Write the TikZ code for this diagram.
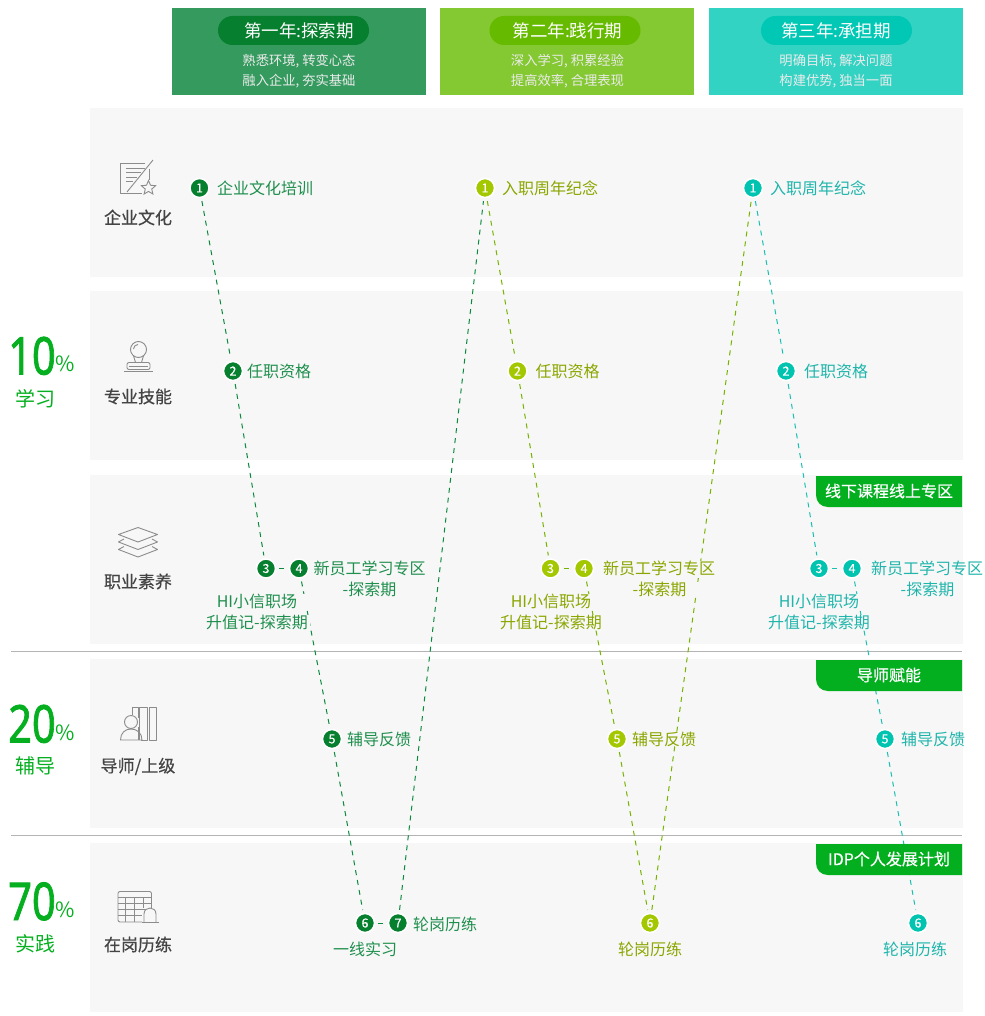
\documentclass[tikz,border=0pt]{standalone}
\usepackage{fontspec}
\setmainfont{Noto Sans CJK SC}
\newfontfamily\cjkb[FakeBold=0.4]{Noto Sans CJK SC}
\newfontfamily\latnb[FakeBold=1.6]{Noto Sans}
\usetikzlibrary{shapes.geometric}
\pgfdeclarelayer{panels}
\pgfdeclarelayer{lines}
\pgfsetlayers{panels,lines,main}
\definecolor{panelc}{HTML}{F7F7F7}
\definecolor{hrc}{HTML}{B4B4B4}
\definecolor{tagc}{HTML}{03AE1F}
\definecolor{hA}{HTML}{349A5E}
\definecolor{hB}{HTML}{84C832}
\definecolor{hC}{HTML}{33D3C4}
\definecolor{pA}{HTML}{067F2F}
\definecolor{pB}{HTML}{66BB00}
\definecolor{pC}{HTML}{00C8B4}
\definecolor{dA}{HTML}{067F2F}
\definecolor{dB}{HTML}{A4C800}
\definecolor{dC}{HTML}{00C4B0}
\definecolor{tA}{HTML}{1F8F4D}
\definecolor{tB}{HTML}{8AA600}
\definecolor{tC}{HTML}{1FB5AB}
\definecolor{lA}{HTML}{0A8A3C}
\definecolor{lB}{HTML}{76B300}
\definecolor{lC}{HTML}{19BFB0}
\definecolor{rowc}{HTML}{444444}
\definecolor{iconc}{HTML}{8C8C8C}
\definecolor{bigc}{HTML}{05AF1F}
\tikzset{
  x=1pt,y=-1pt,
  panel/.style={fill=panelc},
  hr/.style={draw=hrc,line width=1pt},
  pilltext/.style={text=white,inner sep=0pt,font=\fontsize{17.5}{18}\selectfont},
  subtext/.style={text=white!92!black,inner sep=0pt,font=\fontsize{13.3}{14}\selectfont},
  rowlab/.style={text=rowc,inner sep=0pt,font=\cjkb\fontsize{17}{17}\selectfont},
  taglab/.style={text=white,inner sep=0pt,font=\cjkb\fontsize{16}{16}\selectfont},
  pct/.style={text=bigc,inner sep=0pt,font=\fontsize{21}{21}\selectfont},
  cat/.style={text=bigc,inner sep=0pt,text height=17pt,text depth=2pt,font=\fontsize{20}{20}\selectfont},
  big/.style={text=bigc,inner sep=0pt,text height=37pt,text depth=0pt,font=\latnb\fontsize{52}{52}\selectfont},
  dot/.style={circle,fill=#1,draw=white,line width=1.5pt,minimum size=19pt,inner sep=0pt,text=white,font=\cjkb\fontsize{12.5}{12}\selectfont},
  lab/.style={text=#1,fill=panelc,inner xsep=1pt,inner ysep=0pt,font=\fontsize{16}{16}\selectfont},
  labn/.style={text=#1,inner sep=0pt,font=\fontsize{16}{16}\selectfont},
  labwide/.style={lab=#1,minimum width=106pt},
  labnew/.style={lab=#1,minimum width=116pt},
  conn/.style={draw=#1,line width=1pt,dash pattern=on 5pt off 5pt,shorten <=3pt,shorten >=3pt},
  link/.style={draw=#1,line width=1pt,shorten <=3pt,shorten >=4.5pt},
  icon/.style={draw=iconc,line width=0.9pt,line join=round},
}
\begin{document}
\begin{tikzpicture}
\path[use as bounding box] (0,0) rectangle (984,1016);
\begin{pgfonlayer}{panels}
\fill[panel] (90,108) rectangle (963,277);
\fill[panel] (90,291) rectangle (963,460);
\fill[panel] (90,475) rectangle (963,644);
\fill[panel] (90,659) rectangle (963,828);
\fill[panel] (90,843) rectangle (963,1012);
\draw[hr] (11,651) -- (962,651);
\draw[hr] (11,835) -- (962,835);
\end{pgfonlayer}

% headers
\fill[hA] (172,8) rectangle (426,95);
\fill[hB] (440,8) rectangle (694,95);
\fill[hC] (709,8) rectangle (963,95);
\fill[pA,rounded corners=14.5pt] (218,16) rectangle (369,45);
\fill[pB,rounded corners=14.5pt] (489.5,16) rectangle (640.5,45);
\fill[pC,rounded corners=14.5pt] (761,16) rectangle (912,45);
\node[pilltext] (h1) at (299,30.5) {第一年:探索期};
\node[pilltext] (h2) at (567.5,30.5) {第二年:践行期};
\node[pilltext] (h3) at (836,30.5) {第三年:承担期};
\node[subtext] (s1a) at (299,61) {熟悉环境, 转变心态};
\node[subtext] (s1b) at (299,81.5) {融入企业, 夯实基础};
\node[subtext] (s2a) at (567.5,61) {深入学习, 积累经验};
\node[subtext] (s2b) at (567.5,81.5) {提高效率, 合理表现};
\node[subtext] (s3a) at (836,61) {明确目标, 解决问题};
\node[subtext] (s3b) at (836,81.5) {构建优势, 独当一面};

% left column
\node[big] (n10) at (32,356) {\scalebox{.8}[1]{10}};
\node[pct] (p10) at (65.5,364) {\%};
\node[cat] (c10) at (35,398.5) {学习};
\node[big] (n20) at (32,724) {\scalebox{.8}[1]{20}};
\node[pct] (p20) at (65.5,733) {\%};
\node[cat] (c20) at (35,766) {辅导};
\node[big] (n70) at (32,901.5) {\scalebox{.8}[1]{70}};
\node[pct] (p70) at (65.5,910) {\%};
\node[cat] (c70) at (35,944) {实践};

% row labels
\node[rowlab] (r1) at (138,217.5) {企业文化};
\node[rowlab] (r2) at (138,396.5) {专业技能};
\node[rowlab] (r3) at (138,581.5) {职业素养};
\node[rowlab] (r4) at (138,766.5) {导师/上级};
\node[rowlab] (r5) at (138,944.5) {在岗历练};

% icon 1
\draw[icon] (145,163.5) -- (120.5,163.5) -- (120.5,193.5) -- (142,193.5);
\draw[icon] (149,169) -- (149,180);
\draw[icon] (153,160) -- (127,192);
\draw[icon] (126,168) -- (145,168) (126,172.5) -- (141,172.5) (126,177) -- (137,177) (126,181.5) -- (133,181.5);
\node[star,star points=5,star point ratio=2.2,draw=iconc,line width=0.9pt,fill=panelc,minimum size=15pt,inner sep=0pt] (st) at (148.5,188) {};
% icon 2
\draw[icon] (138.5,349.5) circle[radius=8];
\draw[icon] (133.5,355.7) -- (135.5,362.5) (143.5,355.7) -- (141.5,362.5);
\draw[icon] (133.5,349) .. controls (133.5,346.5) and (135.5,344.5) .. (138,344.5);
\draw[icon,rounded corners=2pt] (127,369.5) rectangle (150,362.5);
\draw[icon] (129,366) -- (148,366);
\draw[icon] (124,371.5) -- (153,371.5);
% icon 3
\draw[icon] (118.5,534.5) -- (138,527.5) -- (157.5,534.5) -- (138,542) -- cycle;
\draw[icon] (124,539) -- (118.5,542) -- (138,549.5) -- (157.5,542) -- (152,539);
\draw[icon] (124,546.5) -- (118.5,549.5) -- (138,557) -- (157.5,549.5) -- (152,546.5);
% icon 4
\draw[icon] (132,715) -- (132,707) -- (138,707) -- (138,718) (138,727) -- (138,740);
\draw[icon] (141,740) -- (147,740) -- (147,707) -- (139.5,707) -- (139.5,740);
\draw[icon] (149,740) rectangle (156,707);
\draw[icon] (131,722) circle[radius=6.5];
\draw[icon] (120.5,740) .. controls (120.5,733) and (125,729) .. (131,729) .. controls (137,729) and (142,733) .. (142,740) -- cycle;
% icon 5
\draw[icon,rounded corners=2pt] (142,922) -- (118,922) -- (118,891.5) -- (151.5,891.5) -- (151.5,908);
\draw[icon] (118,897) -- (151.5,897) (118,903) -- (151.5,903) (118,909) -- (146,909) (118,915.5) -- (142,915.5);
\draw[icon] (125,897) -- (125,922) (134,897) -- (134,922) (143,897) -- (143,908);
\draw[icon,fill=panelc] (144,922) -- (144,914) .. controls (144,906) and (156,906) .. (156,914) -- (156,922);
\draw[icon] (142,922) -- (159,922);

% tags
\fill[tagc] (816,476) -- (962,476) -- (962,507) -- (828,507) .. controls (821,507) and (816,502) .. (816,495) -- cycle;
\fill[tagc] (816,660) -- (962,660) -- (962,691) -- (828,691) .. controls (821,691) and (816,686) .. (816,679) -- cycle;
\fill[tagc] (816,844) -- (962,844) -- (962,875) -- (828,875) .. controls (821,875) and (816,870) .. (816,863) -- cycle;
\node[taglab] (t1) at (889,491) {线下课程线上专区};
\node[taglab] (t2) at (889,675) {导师赋能};
\node[taglab] (t3) at (889,859) {IDP个人发展计划};

% dots year 1
\node[dot=dA] (a1) at (199.5,188) {1};
\node[dot=dA] (a2) at (233,371) {2};
\node[dot=dA] (a3) at (266,568.5) {3};
\node[dot=dA] (a4) at (299,568.5) {4};
\node[dot=dA] (a5) at (332,739) {5};
\node[dot=dA] (a6) at (365,923) {6};
\node[dot=dA] (a7) at (398,923) {7};
% dots year 2
\node[dot=dB] (b1) at (485,188) {1};
\node[dot=dB] (b2) at (517.5,371) {2};
\node[dot=dB] (b3) at (550.5,568.5) {3};
\node[dot=dB] (b4) at (584,568.5) {4};
\node[dot=dB] (b5) at (617,739) {5};
\node[dot=dB] (b6) at (650,923) {6};
% dots year 3
\node[dot=dC] (c1) at (753,188) {1};
\node[dot=dC] (c2) at (786,371) {2};
\node[dot=dC] (c3) at (819,568.5) {3};
\node[dot=dC] (c4) at (852,568.5) {4};
\node[dot=dC] (c5) at (885,739) {5};
\node[dot=dC] (c6) at (918,923) {6};

% labels year 1
\node[lab=tA] (la1) at (265,188) {企业文化培训};
\node[lab=tA] (la2) at (279,371) {任职资格};
\node[lab=tA] (la4) at (369.5,568) {新员工学习专区};
\node[labnew=tA] (la4b) at (369.5,589) {-探索期};
\node[labwide=tA] (la3) at (257,601.5) {HI小信职场};
\node[labwide=tA] (la3b) at (257,622.5) {升值记-探索期};
\node[lab=tA] (la5) at (379,739) {辅导反馈};
\node[lab=tA] (la7) at (445,924.5) {轮岗历练};
\node[lab=tA] (la6) at (365,949.5) {一线实习};
% labels year 2
\node[lab=tB] (lb1) at (550,188) {入职周年纪念};
\node[lab=tB] (lb2) at (567.5,371) {任职资格};
\node[lab=tB] (lb4) at (659,568) {新员工学习专区};
\node[labnew=tB] (lb4b) at (659.5,589) {-探索期};
\node[labwide=tB] (lb3) at (551,601.5) {HI小信职场};
\node[labwide=tB] (lb3b) at (551,622.5) {升值记-探索期};
\node[lab=tB] (lb5) at (664,739) {辅导反馈};
\node[lab=tB] (lb6) at (650,949.5) {轮岗历练};
% labels year 3
\node[lab=tC] (lc1) at (818,188) {入职周年纪念};
\node[lab=tC] (lc2) at (836,371) {任职资格};
\node[labn=tC] (lc4) at (927,568) {新员工学习专区};
\node[labn=tC] (lc4b) at (927.5,589) {-探索期};
\node[labwide=tC] (lc3) at (819,601.5) {HI小信职场};
\node[labwide=tC] (lc3b) at (819,622.5) {升值记-探索期};
\node[labn=tC] (lc5) at (933,739) {辅导反馈};
\node[lab=tC] (lc6) at (915,949.5) {轮岗历练};

% connectors
\begin{pgfonlayer}{lines}
\draw[conn=lA] (a1) -- (a2);
\draw[conn=lA] (a2) -- (a3);
\draw[conn=lA] (a4) -- (a5);
\draw[conn=lA] (a5) -- (a6);
\draw[conn=lA] (a7) -- (b1);
\draw[conn=lB] (b1) -- (b2);
\draw[conn=lB] (b2) -- (b3);
\draw[conn=lB] (b4) -- (b5);
\draw[conn=lB] (b5) -- (b6);
\draw[conn=lB] (b6) -- (c1);
\draw[conn=lC] (c1) -- (c2);
\draw[conn=lC] (c2) -- (c3);
\draw[conn=lC] (c4) -- (c5);
\draw[conn=lC] (c5) -- (c6);
\draw[link=lA] (a3) -- (a4);
\draw[link=lB] (b3) -- (b4);
\draw[link=lC] (c3) -- (c4);
\draw[link=lA] (a6) -- (a7);
\end{pgfonlayer}
\end{tikzpicture}
\end{document}
